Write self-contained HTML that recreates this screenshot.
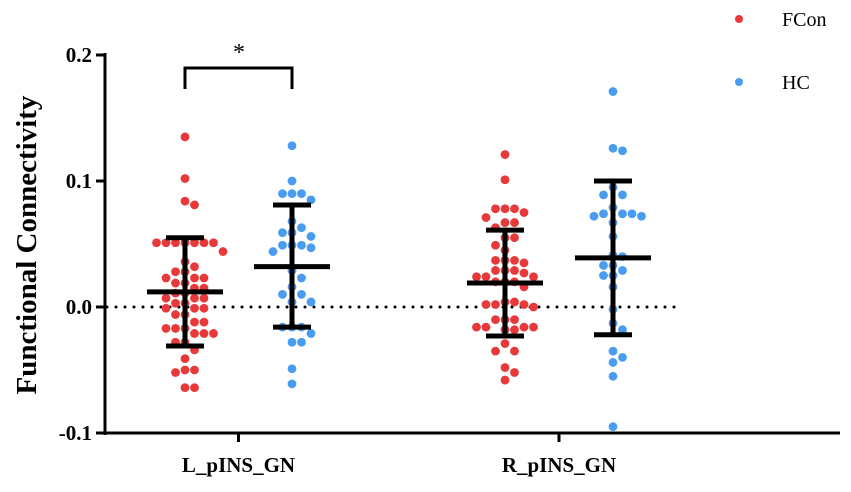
<!DOCTYPE html>
<html><head><meta charset="utf-8"><style>
body{margin:0;background:#fff}
svg text{font-family:"Liberation Serif",serif}
</style></head><body>
<svg width="851" height="487" viewBox="0 0 851 487" xmlns="http://www.w3.org/2000/svg">
<g id="plot"></g>
</svg>
<script>
const categories = ["L_pINS_GN","R_pINS_GN"];
const groups = ["FCon","HC"];
const colors = {FCon:"#e8393a", HC:"#4a9cf0"};
const yTicks = [0.2,0.1,0.0,-0.1];
const yTickLabels = ["0.2","0.1","0.0","-0.1"];
const lFCon = [0.135,0.102,0.084,0.081,0.051,0.051,0.051,0.051,0.051,0.051,0.051,0.044,0.036,0.032,0.028,0.028,0.023,0.023,0.023,0.019,0.019,0.015,0.015,0.011,0.011,0.007,0.007,0.007,0.003,0.003,-0.001,-0.001,-0.001,-0.006,-0.006,-0.012,-0.012,-0.017,-0.017,-0.017,-0.021,-0.021,-0.021,-0.028,-0.028,-0.034,-0.041,-0.050,-0.050,-0.052,-0.064,-0.064];
const lHC = [0.128,0.100,0.090,0.090,0.090,0.085,0.068,0.063,0.059,0.059,0.056,0.049,0.049,0.049,0.047,0.044,0.029,0.023,0.016,0.010,0.010,0.004,0.004,-0.016,-0.016,-0.016,-0.021,-0.028,-0.028,-0.049,-0.061];
const rFCon = [0.121,0.101,0.078,0.078,0.078,0.075,0.071,0.067,0.067,0.063,0.055,0.055,0.049,0.045,0.037,0.037,0.037,0.035,0.029,0.029,0.029,0.027,0.024,0.024,0.024,0.020,0.020,0.020,0.016,0.004,0.004,0.002,0.002,0.002,0,-0.010,-0.010,-0.010,-0.016,-0.016,-0.016,-0.016,-0.018,-0.018,-0.029,-0.035,-0.035,-0.048,-0.052,-0.058];
const rHC = [0.171,0.126,0.124,0.095,0.089,0.089,0.079,0.074,0.074,0.074,0.072,0.072,0.067,0.056,0.041,0.040,0.033,0.033,0.029,0.025,0.025,0.016,-0.002,-0.013,-0.018,-0.035,-0.040,-0.044,-0.055,-0.095];
const means = [0.012,0.032,0.019,0.039];
const sdHigh = [0.055,0.081,0.061,0.100];
const sdLow = [-0.031,-0.016,-0.023,-0.022];

const NS="http://www.w3.org/2000/svg";
const g=document.getElementById('plot');
const y=v=>307-v*1260;
const xPos=[185,292,505,613];
function mk(t,a,p){const e=document.createElementNS(NS,t);for(const k in a)e.setAttribute(k,a[k]);(p||g).appendChild(e);return e;}

let ax=mk('line',{x1:105,y1:53,x2:105,y2:435,stroke:'#000','stroke-width':3});


let xa=mk('line',{x1:103.5,y1:433,x2:840,y2:433,stroke:'#000','stroke-width':3});


yTicks.forEach((v,i)=>{
  let t=mk('line',{x1:96,y1:y(v),x2:105,y2:y(v),stroke:'#000','stroke-width':3});
  
  
  let l=mk('text',{x:92,y:y(v)+7,'text-anchor':'end','font-size':21,'font-weight':'bold'});
  l.textContent=yTickLabels[i];
  
  
});
categories.forEach((c,i)=>{
  const cx=(xPos[i*2]+xPos[i*2+1])/2;
  let t=mk('line',{x1:cx,y1:433,x2:cx,y2:442,stroke:'#000','stroke-width':3});
  
  
  let l=mk('text',{x:cx,y:472,'text-anchor':'middle','font-size':21,'font-weight':'bold'});
  l.textContent=c;
  
  
});
let yt=mk('text',{x:0,y:0,transform:'translate(36,245) rotate(-90)','text-anchor':'middle','font-size':29,'font-weight':'bold'});
yt.textContent='Functional Connectivity';


let zl=mk('line',{x1:107,y1:y(0),x2:680,y2:y(0),stroke:'#000','stroke-width':3,'stroke-dasharray':'0 9','stroke-linecap':'round'});



const series=[[lFCon,'FCon'],[lHC,'HC'],[rFCon,'FCon'],[rHC,'HC']];
series.forEach(([vals,grp],si)=>{
  const placed=[];const d=9.5;
  [...vals].sort((a,b)=>b-a).forEach(v=>{
    const py=y(v);let off=0;
    for(let k=0;k<40;k++){
      const cand=k===0?0:(k%2?1:-1)*Math.ceil(k/2)*d;
      if(placed.every(p=>Math.hypot(p[0]-cand,p[1]-py)>=d-0.3)){off=cand;break;}
    }
    placed.push([off,py]);
    let c=mk('circle',{cx:xPos[si]+off,cy:py,r:4.4,fill:colors[grp]});
    
    
  });
});
means.forEach((m,i)=>{
  const x=xPos[i];
  let e=mk('g',{stroke:'#000','stroke-width':5});
  
  
  mk('line',{x1:x,y1:y(sdHigh[i]),x2:x,y2:y(sdLow[i])},e);
  mk('line',{x1:x-19,y1:y(sdHigh[i]),x2:x+19,y2:y(sdHigh[i])},e);
  mk('line',{x1:x-19,y1:y(sdLow[i]),x2:x+19,y2:y(sdLow[i])},e);
  mk('line',{x1:x-38,y1:y(m),x2:x+38,y2:y(m)},e);
});
let br=mk('path',{d:'M185,89 V68 H292 V89',fill:'none',stroke:'#000','stroke-width':3});


let st=mk('text',{x:239,y:60,'text-anchor':'middle','font-size':24});
st.textContent='*';


groups.forEach((gname,i)=>{
  const ly=19+i*63;
  let lg=mk('g',{});
  
  
  mk('circle',{cx:739,cy:ly,r:4,fill:colors[gname]},lg);
  let t=mk('text',{x:782,y:ly+7,'font-size':20},lg);
  t.textContent=gname;
});
</script>
</body></html>
